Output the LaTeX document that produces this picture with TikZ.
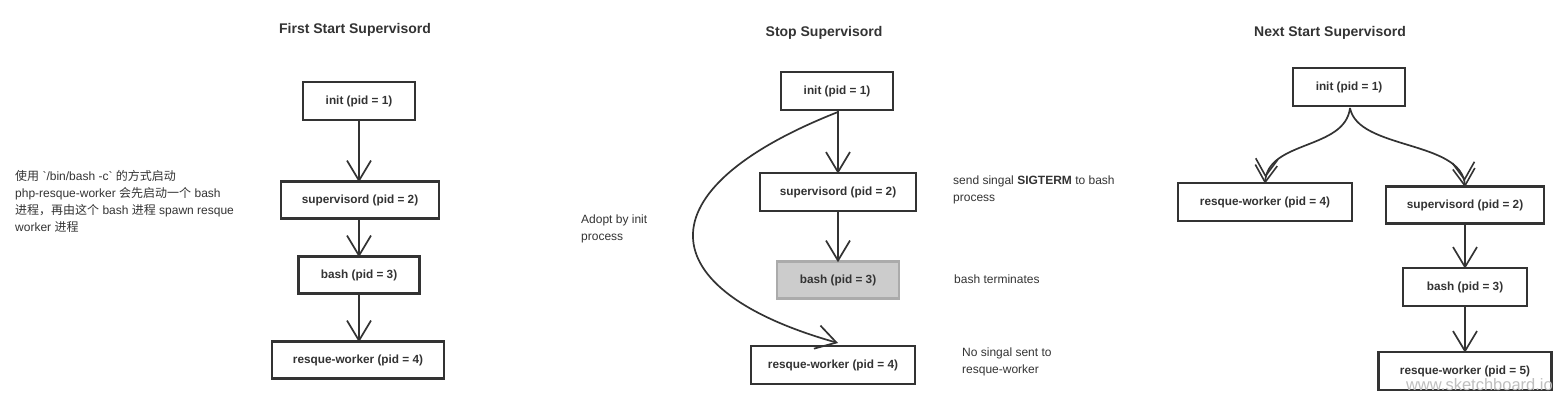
\documentclass[tikz,border=0pt]{standalone}
\usepackage{fontspec}
\setmainfont{Liberation Sans}
\newfontfamily\cjk{Noto Sans CJK SC}
\usetikzlibrary{arrows.meta}
\definecolor{ink}{HTML}{333333}
\definecolor{txt}{HTML}{333333}
\tikzset{
  box/.style={draw=ink, line width=2.6pt, fill=white, font=\bfseries\fontsize{11.8}{13}\selectfont, text=txt, inner sep=0pt},
  greybox/.style={box, draw=black!33, fill=black!20},
  title/.style={font=\bfseries\fontsize{14}{16}\selectfont, text=txt},
  note/.style={font=\fontsize{12}{17}\selectfont, text=txt, align=left, anchor=north west, inner sep=0pt},
  vee/.style={-{Straight Barb[length=20pt,width=24pt,line width=1.7pt]}, draw=ink, line width=1.7pt},
  dvee/.style={-{Straight Barb[length=17pt,width=22pt,line width=1.6pt,sep=-13pt]Straight Barb[length=17pt,width=22pt,line width=1.6pt]}, draw=ink, line width=1.7pt},
}
\begin{document}
\begin{tikzpicture}[x=1pt,y=-1pt]
\useasboundingbox (0,0) rectangle (1568,406);
% left note
\node[note] (cn) at (15,170) {{\cjk 使用} \textasciigrave/bin/bash -c\textasciigrave{} {\cjk 的方式启动}\\
php-resque-worker {\cjk 会先启动一个} bash\\
{\cjk 进程，再由这个} bash {\cjk 进程} spawn resque\\
worker {\cjk 进程}};
% panel 1
\node[title] (t1) at (355,30) {First Start Supervisord};
\node[box, minimum width=112pt, minimum height=38pt] (a1) at (359,101) {init (pid = 1)};
\node[box, minimum width=158pt, minimum height=37pt] (a2) at (360,200) {supervisord (pid = 2)};
\node[box, minimum width=121pt, minimum height=37pt] (a3) at (359,275) {bash (pid = 3)};
\node[box, minimum width=172pt, minimum height=37pt] (a4) at (358,360) {resque-worker (pid = 4)};
\draw[vee] (a1.south) -- ([yshift=-2pt]a1.south |- a2.north);
\draw[vee] (a1.south |- a2.south) -- ([yshift=-2pt]a1.south |- a3.north);
\draw[vee] (a1.south |- a3.south) -- ([yshift=-2pt]a1.south |- a4.north);
% panel 2
\node[title] (t2) at (824,33) {Stop Supervisord};
\node[box, minimum width=112pt, minimum height=38pt] (b1) at (837,91) {init (pid = 1)};
\node[box, minimum width=156pt, minimum height=38pt] (b2) at (838,192) {supervisord (pid = 2)};
\node[greybox, minimum width=122pt, minimum height=37pt] (b3) at (838,280) {bash (pid = 3)};
\node[box, minimum width=164pt, minimum height=38pt] (b4) at (833,365) {resque-worker (pid = 4)};
\draw[vee] (b2.north |- b1.south) -- ([yshift=-2pt]b2.north);
\draw[vee] (b2.south) -- ([yshift=-2pt]b2.south |- b3.north);
\coordinate (c1) at (838,112);
\coordinate (c2) at (838,343);
\draw[vee] (c1) .. controls (640,190) and (650,290) .. (c2);
\node[note] (n1) at (581,215) {Adopt by init\\process};
\node[note] (n2) at (953,176) {send singal \textbf{SIGTERM} to bash\\process};
\node[note] (n3) at (954,275) {bash terminates};
\node[note] (n4) at (962,348) {No singal sent to\\resque-worker};
% panel 3
\node[title] (t3) at (1330,33) {Next Start Supervisord};
\node[box, minimum width=112pt, minimum height=38pt] (d1) at (1349,87) {init (pid = 1)};
\node[box, minimum width=174pt, minimum height=38pt] (d4) at (1265,202) {resque-worker (pid = 4)};
\node[box, minimum width=158pt, minimum height=37pt] (d2) at (1465,205) {supervisord (pid = 2)};
\node[box, minimum width=124pt, minimum height=38pt] (d3) at (1465,287) {bash (pid = 3)};
\node[box, minimum width=173pt, minimum height=38pt] (d5) at (1465,371) {resque-worker (pid = 5)};
\coordinate (e0) at (1350,108);
\draw[dvee] (e0) .. controls (1345,150) and (1268,140) .. ([yshift=-2pt]d4.north);
\draw[dvee] (e0) .. controls (1358,150) and (1462,140) .. ([yshift=-2pt]d2.north);
\draw[vee] (d2.south) -- ([yshift=-2pt]d3.north);
\draw[vee] (d3.south) -- ([yshift=-2pt]d5.north);
\node[font=\fontsize{16.5}{18}\selectfont, text=black!25, anchor=east, inner sep=0pt] (wm) at (1553,385) {www.sketchboard.io};
\end{tikzpicture}
\end{document}
